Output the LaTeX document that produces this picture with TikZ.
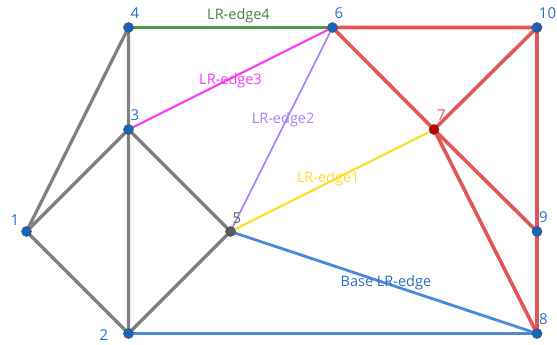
\documentclass[tikz,border=0pt]{standalone}
\usepackage{fontspec}
\setmainfont{Open Sans}
\usepackage{tikz}
\definecolor{NodeBlue}{HTML}{1565C0}
\definecolor{LabelBlue}{HTML}{2A6FC9}
\definecolor{EdgeGray}{HTML}{808080}
\definecolor{EdgeRed}{HTML}{DF5757}
\definecolor{EdgeBlue}{HTML}{4A8AD8}
\definecolor{EdgeGreen}{HTML}{4E9A4E}
\definecolor{EdgeMagenta}{HTML}{F53CF2}
\definecolor{EdgePurple}{HTML}{AC80F6}
\definecolor{EdgeYellow}{HTML}{FCDC2A}

\begin{document}
\begin{tikzpicture}[x=1pt,y=-1pt,
    vtx/.style={circle,draw=black!70,line width=.5pt,fill=NodeBlue,
                inner sep=0pt,minimum size=10pt},
    lbl/.style={font=\fontsize{15}{15}\selectfont,text=LabelBlue,inner sep=0pt},
    elbl/.style={font=\fontsize{14.5}{14.5}\selectfont,inner sep=0pt},
    gray edge/.style={EdgeGray,line width=3.2pt},
    red edge/.style={EdgeRed,line width=3.6pt},
    base edge/.style={EdgeBlue,line width=2.8pt}]
    \useasboundingbox (0,0) rectangle (557,345);
    % vertices
    \coordinate (p1) at (26.5,231.5);
    \coordinate (p2) at (128.5,333.5);
    \coordinate (p3) at (128.5,129.5);
    \coordinate (p4) at (128.5,27.5);
    \coordinate (p5) at (230.5,231.5);
    \coordinate (p6) at (332.5,27.5);
    \coordinate (p7) at (434,129.5);
    \coordinate (p8) at (537,333.5);
    \coordinate (p9) at (537,231.5);
    \coordinate (p10) at (537,27.5);
    % grey edges
    \draw[gray edge] (p4)--(p1) (p4)--(p2) (p3)--(p1) (p3)--(p5)
        (p1)--(p2) (p2)--(p5);
    % red edges
    \draw[red edge] (p6)--(p10) (p6)--(p7) (p7)--(p10) (p10)--(p8)
        (p7)--(p9) (p7)--(p8);
    % base edges
    \draw[base edge] (p2)--(p8);
    \draw[base edge] (p5)--(p8)
        node[pos=.507,elbl,text=LabelBlue] (base) {Base LR-edge};
    % LR edges
    \draw[EdgeGreen,line width=2.2pt] (p4)--(p6)
        node[midway,above=3pt,xshift=8pt,elbl,text=EdgeGreen!85!black] (lr4) {LR-edge4};
    \draw[EdgeMagenta,line width=2.2pt] (p3)--(p6)
        node[midway,yshift=-2.5pt,elbl,text=EdgeMagenta] (lr3) {LR-edge3};
    \draw[EdgePurple,line width=1.7pt] (p5)--(p6)
        node[pos=.55,xshift=-3.5pt,elbl,text=EdgePurple] (lr2) {LR-edge2};
    \draw[EdgeYellow,line width=2.2pt] (p5)--(p7)
        node[pos=.48,yshift=3.4pt,elbl,text=EdgeYellow] (lr1) {LR-edge1};
    % vertex dots
    \node[vtx] (v1) at (p1) {};
    \node[vtx] (v2) at (p2) {};
    \node[vtx] (v3) at (p3) {};
    \node[vtx] (v4) at (p4) {};
    \node[vtx,fill=black!65] (v5) at (p5) {};
    \node[vtx] (v6) at (p6) {};
    \node[vtx,fill=red!75!black] (v7) at (p7) {};
    \node[vtx] (v8) at (p8) {};
    \node[vtx] (v9) at (p9) {};
    \node[vtx] (v10) at (p10) {};
    % vertex numbers
    \node[lbl] (n1) at (15,220) {1};
    \node[lbl] (n2) at (104,335) {2};
    \node[lbl] (n3) at (135,115.5) {3};
    \node[lbl] (n4) at (135,13) {4};
    \node[lbl,text=black!60] (n5) at (237,218) {5};
    \node[lbl] (n6) at (339,13) {6};
    \node[lbl,text=EdgeRed] (n7) at (441.5,115) {7};
    \node[lbl] (n8) at (543.5,319.5) {8};
    \node[lbl] (n9) at (543.5,217.5) {9};
    \node[lbl] (n10) at (547.5,13) {10};
  \end{tikzpicture}
\end{document}
